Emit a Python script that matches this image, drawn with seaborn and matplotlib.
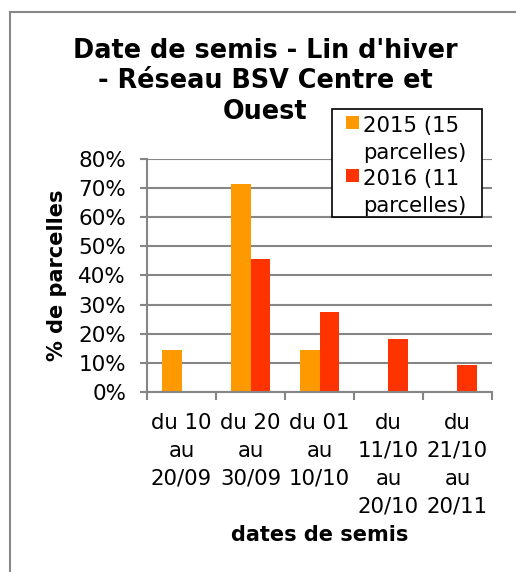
import matplotlib
matplotlib.use("Agg")
import matplotlib.pyplot as plt
import seaborn as sns
import pandas as pd
from matplotlib.patches import Rectangle
from matplotlib.ticker import PercentFormatter

categories = ["du 10\nau\n20/09", "du 20\nau\n30/09", "du 01\nau\n10/10",
              "du\n11/10\nau\n20/10", "du\n21/10\nau\n20/11"]
series_names = ["2015 (15\nparcelles)", "2016 (11\nparcelles)"]
values_2015 = [14.3, 71.4, 14.3, 0.0, 0.0]
values_2016 = [0.0, 45.5, 27.3, 18.2, 9.1]
colors = ["#FF9900", "#FF3300"]
title_lines = ["Date de semis - Lin d'hiver", "- Réseau BSV Centre et", "Ouest"]

df = pd.DataFrame({
    "cat": categories * 2,
    "serie": [series_names[0]] * 5 + [series_names[1]] * 5,
    "val": values_2015 + values_2016,
})

sns.set_theme(style="white")
plt.rcParams["font.family"] = ["DejaVu Sans"]
plt.rcParams["text.color"] = "black"
plt.rcParams["axes.labelcolor"] = "black"
plt.rcParams["xtick.color"] = "black"
plt.rcParams["ytick.color"] = "black"

W, H = 516, 572
fig = plt.figure(figsize=(W / 100, H / 100), dpi=100)
fig.patch.set_facecolor("white")
fig.patches.append(Rectangle((10 / W, -0.05), 1.2, 1 - 12 / H + 0.05,
                             transform=fig.transFigure, fill=False,
                             edgecolor="#888888", linewidth=1.5))

ax = fig.add_axes([147 / W, 1 - 392 / H, (492 - 147) / W, (392 - 159) / H])
sns.barplot(data=df, x="cat", y="val", hue="serie", palette=colors,
            width=0.571, gap=0, ax=ax, saturation=1, legend=True)
for p in ax.patches:
    p.set_linewidth(0)

ax.set_ylim(0, 80)
ax.set_xlim(-0.5, 4.5)
ax.set_yticks(range(0, 81, 10))
ax.yaxis.set_major_formatter(PercentFormatter(decimals=0))
ax.grid(axis="y", color="#868686", linewidth=1.5)
ax.set_axisbelow(True)
for s in ["top", "right"]:
    ax.spines[s].set_visible(False)
for s in ["left", "bottom"]:
    ax.spines[s].set_color("#868686")
    ax.spines[s].set_linewidth(1.5)

ax.set_xticks([i - 0.5 for i in range(6)], minor=True)
ax.tick_params(axis="x", which="minor", length=6, width=1.5, color="#868686", bottom=True)
ax.tick_params(axis="x", which="major", length=0, labelsize=15.3, pad=15)
ax.tick_params(axis="y", length=5, width=1.5, color="#868686", labelsize=15.5, left=True, pad=10)
for lbl in ax.get_xticklabels():
    lbl.set_linespacing(1.5)
    lbl.set_verticalalignment("top")

ax.set_xlabel("dates de semis", fontsize=15, fontweight="bold", labelpad=6)
ax.set_ylabel("% de parcelles", fontsize=15, fontweight="bold", labelpad=8)

for i, (line, yc) in enumerate(zip(title_lines, [51, 81, 112])):
    fig.text(265 / W, 1 - yc / H, line, ha="center", va="center",
             fontsize=18.4, fontweight="bold")

# legend: moved from axes to figure, with an Excel-like box
handles, labels = ax.get_legend_handles_labels()
ax.get_legend().remove()
box = Rectangle((332 / W, 1 - 217 / H), 150 / W, 108 / H,
                transform=fig.transFigure, facecolor="white",
                edgecolor="black", linewidth=1.2, zorder=5)
fig.patches.append(box)
leg = fig.legend(handles, labels, loc="upper left",
                 bbox_to_anchor=(346 / W, 1 - 116 / H),
                 bbox_transform=fig.transFigure, fontsize=15.3, frameon=False,
                 handlelength=0.6, handleheight=0.6, handletextpad=0.2,
                 borderpad=0, labelspacing=0.25, borderaxespad=0)
leg.set_zorder(10)
for t in leg.get_texts():
    t.set_linespacing(1.45)
try:
    for col in leg._legend_handle_box.get_children():
        for entry in col.get_children():
            entry.align = "top"
except Exception:
    pass

fig.savefig("out.png", dpi=100, facecolor="white")
